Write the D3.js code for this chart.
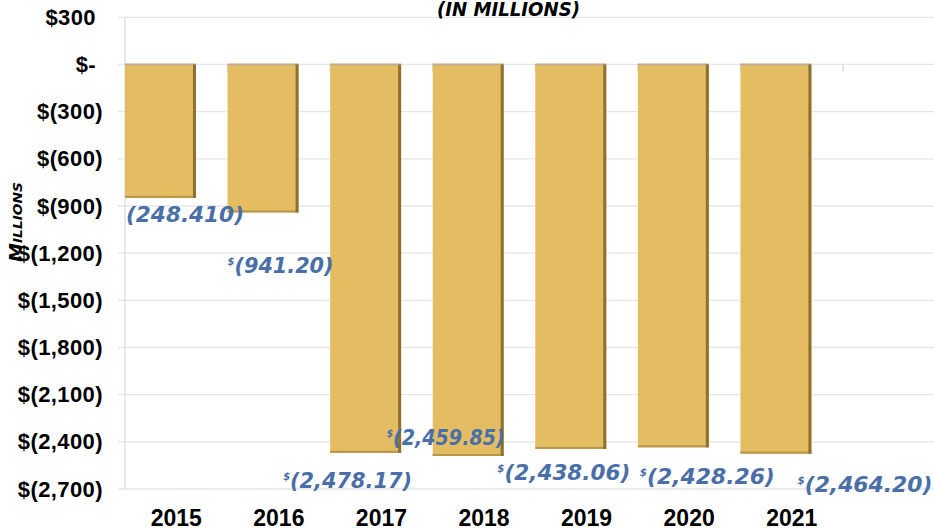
<!DOCTYPE html>
<html>
<head>
<meta charset="utf-8">
<script src="https://cdn.jsdelivr.net/npm/d3@7"></script>
<style>
  html, body { margin: 0; padding: 0; background: #ffffff; }
  svg { display: block; }
</style>
</head>
<body>
<svg id="chart" width="934" height="528"></svg>
<script>
// ---- data ----
const years = ["2015", "2016", "2017", "2018", "2019", "2020", "2021"];
const values = [-848.41, -941.20, -2470, -2490, -2445, -2435, -2475];
const labels = ["(248.410)", "(941.20)", "(2,478.17)", "(2,459.85)", "(2,438.06)", "(2,428.26)", "(2,464.20)"];
const labelHasDollar = [false, true, true, true, true, true, true];
const yTicks = [300, 0, -300, -600, -900, -1200, -1500, -1800, -2100, -2400, -2700];
const titleText = "(IN MILLIONS)";
const axisTitle = ["M", "ILLIONS"];

// ---- layout (label placement tweaks, not data) ----
const labelOffsets = [[1, 24, 118], [0, 61, 106], [-47, 35, 129], [-46, -11, 118], [-38, 31, 133], [2, 37, 135], [57, 38.5, 135]];

(function () {
const svg = d3.select("#chart");
const mLeft = 125, mRight = 934, mTop = 17.3, mBottom = 489;

const x = d3.scaleBand().domain(years).range([mLeft, 843]).paddingInner(0).paddingOuter(0);
const y = d3.scaleLinear().domain([300, -2700]).range([mTop, mBottom]);
const barW = x.step() * 0.692;

// gridlines
svg.append("g").selectAll("line").data(yTicks).join("line")
  .attr("x1", mLeft - 7).attr("x2", mRight)
  .attr("y1", d => y(d)).attr("y2", d => y(d))
  .attr("stroke", "#e6e6e6").attr("stroke-width", 1.3);

// left axis line
svg.append("line").attr("x1", mLeft).attr("x2", mLeft)
  .attr("y1", y(300)).attr("y2", y(-2700))
  .attr("stroke", "#dcdcdc").attr("stroke-width", 1.3);

// band-boundary ticks on zero line
const bounds = years.map(d => x(d)).concat([x(years[years.length - 1]) + x.step()]);
svg.append("g").selectAll("line").data(bounds.slice(1)).join("line")
  .attr("x1", d => d).attr("x2", d => d)
  .attr("y1", y(0)).attr("y2", y(0) + 7)
  .attr("stroke", "#d6d6d6").attr("stroke-width", 1.3);

// y axis tick labels
const fmt = d3.format(",");
const yAxis = d3.axisLeft(y).tickValues(yTicks).tickSize(0).tickPadding(0)
  .tickFormat(d => d > 0 ? "$" + fmt(d) : d === 0 ? "$-" : "$(" + fmt(-d) + ")");
const gy = svg.append("g").attr("transform", `translate(103,0)`).call(yAxis);
gy.select(".domain").remove();
gy.selectAll("text")
  .attr("font-family", "Liberation Sans, Arial, sans-serif")
  .attr("font-weight", "bold").attr("font-size", 22).attr("fill", "#000")
  .attr("letter-spacing", 0.4)
  .attr("dx", d => d < 0 ? 0 : -7);

// bars
const bars = svg.append("g").selectAll("g").data(years).join("g");
bars.append("rect")
  .attr("x", d => x(d)).attr("width", barW)
  .attr("y", y(0)).attr("height", (d, i) => y(values[i]) - y(0))
  .attr("fill", "#e4bd63");
bars.append("rect")
  .attr("x", d => x(d)).attr("width", barW)
  .attr("y", y(0) - 1).attr("height", 2)
  .attr("fill", "#bfae8c");
bars.append("rect")
  .attr("x", d => x(d)).attr("width", barW)
  .attr("y", (d, i) => y(values[i]) - 2).attr("height", 2)
  .attr("fill", "#b8954a");
bars.append("rect")
  .attr("x", d => x(d) + barW - 3).attr("width", 3)
  .attr("y", y(0)).attr("height", (d, i) => y(values[i]) - y(0))
  .attr("fill", "#8e7131");

// x axis labels
const xAxis = d3.axisBottom(x).tickSize(0).tickPadding(0);
const gx = svg.append("g").attr("transform", `translate(0,509)`).call(xAxis);
gx.select(".domain").remove();
gx.selectAll("text")
  .attr("font-family", "Liberation Sans, Arial, sans-serif")
  .attr("font-weight", "bold").attr("font-size", 23).attr("fill", "#000")
  .attr("dy", 0).attr("y", 16.5);

// data labels
const lab = svg.append("g").selectAll("text").data(years).join("text")
  .attr("x", (d, i) => x(d) + labelOffsets[i][0])
  .attr("y", (d, i) => y(values[i]) + labelOffsets[i][1])
  .attr("textLength", (d, i) => labelOffsets[i][2])
  .attr("lengthAdjust", "spacingAndGlyphs")
  .attr("font-family", "DejaVu Sans Condensed, DejaVu Sans, sans-serif")
  .attr("font-style", "italic").attr("font-weight", "bold")
  .attr("font-size", 21).attr("fill", "#4a6fa8");
lab.each(function (d, i) {
  const t = d3.select(this);
  if (labelHasDollar[i]) {
    t.append("tspan").attr("font-size", 10).attr("dy", -8).text("$");
    t.append("tspan").attr("dy", 8).text(labels[i]);
  } else {
    t.append("tspan").text(labels[i]);
  }
});

// title
svg.append("text")
  .attr("x", 437).attr("y", 16)
  .attr("textLength", 143).attr("lengthAdjust", "spacingAndGlyphs")
  .attr("font-family", "DejaVu Sans Condensed, DejaVu Sans, sans-serif")
  .attr("font-style", "italic").attr("font-weight", "bold")
  .attr("font-size", 19).attr("fill", "#000")
  .text(titleText);

// y axis title
const at = svg.append("text")
  .attr("transform", "translate(22,262) rotate(-90)")
  .attr("font-family", "DejaVu Sans Condensed, DejaVu Sans, sans-serif")
  .attr("font-style", "italic").attr("font-weight", "bold")
  .attr("fill", "#000")
  .attr("textLength", 80).attr("lengthAdjust", "spacingAndGlyphs");
at.append("tspan").attr("font-size", 18).text(axisTitle[0]);
at.append("tspan").attr("font-size", 13).text(axisTitle[1]);
})();
</script>
</body>
</html>
